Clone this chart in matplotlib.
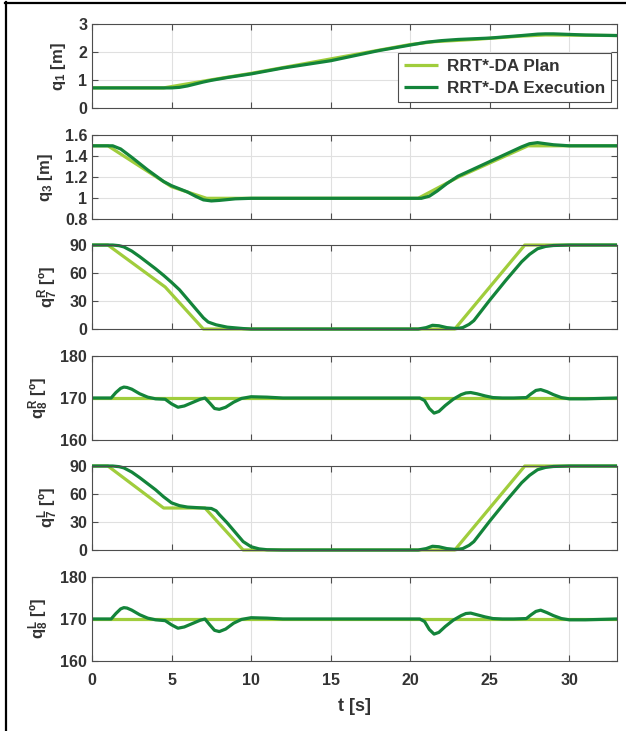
import matplotlib
matplotlib.use('Agg')
import matplotlib.pyplot as plt
from matplotlib.lines import Line2D
from matplotlib import font_manager

plt.rcParams['font.family'] = ['Liberation Sans', 'DejaVu Sans']
plt.rcParams['font.weight'] = 'bold'
plt.rcParams['mathtext.fontset'] = 'custom'
plt.rcParams['mathtext.rm'] = 'Liberation Sans:bold'
plt.rcParams['mathtext.it'] = 'Liberation Sans:bold'
plt.rcParams['mathtext.bf'] = 'Liberation Sans:bold'

names = {f.name for f in font_manager.fontManager.ttflist}
TICK_FONT = 'Liberation Sans Narrow' if 'Liberation Sans Narrow' in names else 'Liberation Sans'

PLAN_C = '#a0cd3c'
EXEC_C = '#13843a'
AX_C = '#4d4d4d'
TXT_C = '#333333'

# ---- data ----
# q1 [m]
q1_plan_t = [0, 4.5, 7.5, 10, 20, 21.5, 24, 27, 28.5, 33]
q1_plan = [0.73, 0.73, 1.02, 1.25, 2.28, 2.38, 2.46, 2.58, 2.62, 2.60]
q1_exec_t = [0, 5.0, 5.5, 6.0, 6.5, 7.0, 7.5, 8.5, 10, 12, 15, 18, 20, 21, 22, 23, 25,
             27, 28, 28.5, 29, 30, 31, 33]
q1_exec = [0.73, 0.73, 0.75, 0.80, 0.87, 0.94, 1.0, 1.1, 1.23, 1.44, 1.70, 2.06, 2.26,
           2.36, 2.42, 2.46, 2.51, 2.60, 2.65, 2.66, 2.66, 2.64, 2.62, 2.60]

# q3 [m]
q3_plan_t = [0, 1.0, 5.0, 7.2, 20.5, 23.0, 27.4, 33]
q3_plan = [1.5, 1.5, 1.11, 1.0, 1.0, 1.2, 1.5, 1.5]
q3_exec_t = [0, 1.3, 1.8, 2.5, 3.5, 4.5, 5.0, 5.5, 6.0, 6.5, 7.0, 7.5, 8.0, 9.0, 10,
             20.7, 21.2, 21.7, 22.3, 23, 24, 25, 26, 27, 27.5, 28, 28.5, 29, 30, 33]
q3_exec = [1.5, 1.5, 1.47, 1.39, 1.27, 1.16, 1.12, 1.09, 1.06, 1.02, 0.985, 0.975, 0.98,
           0.995, 1.0, 1.0, 1.02, 1.07, 1.14, 1.21, 1.28, 1.35, 1.42, 1.49, 1.52, 1.53,
           1.52, 1.51, 1.5, 1.5]

# q7 right [deg]
q7r_plan_t = [0, 1.0, 4.6, 7.0, 22.8, 27.2, 33]
q7r_plan = [90, 90, 45, 0, 0, 90, 90]
q7r_exec_t = [0, 1.3, 1.7, 2.0, 2.5, 3.0, 3.5, 4.0, 4.5, 5.0, 5.5, 6.0, 6.5, 7.0, 7.3,
              7.8, 8.5, 9.5, 10, 20.5, 21.0, 21.4, 21.8, 22.3, 22.9, 23.3, 23.7, 24, 25,
              26, 27, 27.5, 28, 28.5, 29, 30, 33]
q7r_exec = [90, 90, 89.3, 88, 83.5, 77.5, 71, 64.5, 57.5, 50, 42, 32, 22, 12, 7.5, 4.5,
            2, 0.5, 0, 0, 1.5, 4, 3.5, 1.5, 0.5, 1.5, 5, 9, 31, 52, 72, 80, 86, 88.5,
            89.5, 90, 90]

# q8 right [deg]
q8r_plan_t = [0, 33]
q8r_plan = [170, 170]
q8r_exec_t = [0, 1.2, 1.5, 1.8, 2.0, 2.2, 2.5, 3.0, 3.5, 4.0, 4.6, 5.0, 5.4, 5.8, 6.3,
              6.8, 7.1, 7.4, 7.7, 8.0, 8.4, 8.9, 9.4, 10, 11, 12, 20.6, 20.9, 21.2,
              21.5, 21.8, 22.2, 22.7, 23.2, 23.5, 23.8, 24.2, 24.7, 25.2, 25.8, 26.5,
              27.3, 27.6, 27.9, 28.2, 28.6, 29.0, 29.5, 30, 31, 33]
q8r_exec = [170, 170, 171.3, 172.3, 172.6, 172.5, 172.1, 171.0, 170.2, 169.8, 169.7,
            168.6, 167.8, 168.1, 168.9, 169.7, 170.0, 168.8, 167.5, 167.3, 167.8, 169.0,
            169.9, 170.3, 170.2, 170.0, 170.0, 169.4, 167.5, 166.4, 166.8, 168.2, 169.7,
            170.8, 171.2, 171.3, 171.0, 170.5, 170.1, 170.0, 170.0, 170.1, 171.0, 171.8,
            172.0, 171.5, 170.8, 170.1, 169.8, 169.8, 170.0]

# q7 left [deg]
q7l_plan_t = [0, 1.0, 4.5, 7.1, 9.5, 22.8, 27.2, 33]
q7l_plan = [90, 90, 45, 45, 0, 0, 90, 90]
q7l_exec_t = [0, 1.3, 1.7, 2.0, 2.5, 3.0, 3.5, 4.0, 4.5, 5.0, 5.5, 6.0, 6.5, 7.0, 7.5,
              7.8, 8.0, 8.5, 9.0, 9.5, 10, 10.5, 11, 12, 20.5, 21.0, 21.4, 21.8, 22.3,
              22.9, 23.3, 23.7, 24, 25, 26, 27, 27.5, 28, 28.5, 29, 30, 33]
q7l_exec = [90, 90, 89.3, 88, 83.5, 77.5, 71, 64.5, 57, 50.5, 47.5, 46, 45.5, 45, 44.5,
            42, 38, 29, 19, 9, 3.5, 1.2, 0.3, 0, 0, 1.5, 4, 3.5, 1.5, 0.5, 1.5, 5, 9,
            31, 52, 72, 80, 86, 88.5, 89.5, 90, 90]

# q8 left [deg]
q8l_plan_t = [0, 33]
q8l_plan = [170, 170]
q8l_exec_t = q8r_exec_t
q8l_exec = [170, 170, 171.3, 172.4, 172.7, 172.6, 172.1, 171.0, 170.2, 169.8, 169.6,
            168.6, 167.8, 168.1, 168.9, 169.7, 170.0, 168.6, 167.3, 167.0, 167.6, 169.0,
            169.9, 170.3, 170.2, 170.0, 170.0, 169.4, 167.5, 166.4, 166.8, 168.2, 169.7,
            170.8, 171.3, 171.4, 171.0, 170.5, 170.1, 170.0, 170.0, 170.1, 171.0, 171.8,
            172.1, 171.5, 170.8, 170.1, 169.8, 169.8, 170.0]

panels = [
    (q1_plan_t, q1_plan, q1_exec_t, q1_exec, 'q$_1$ [m]', (0, 3), [0, 1, 2, 3], None),
    (q3_plan_t, q3_plan, q3_exec_t, q3_exec, 'q$_3$ [m]', (0.8, 1.6),
     [0.8, 1.0, 1.2, 1.4, 1.6], ['0.8', '1', '1.2', '1.4', '1.6']),
    (q7r_plan_t, q7r_plan, q7r_exec_t, q7r_exec, 'q$^\\mathrm{R}_7$ [º]', (0, 90),
     [0, 30, 60, 90], None),
    (q8r_plan_t, q8r_plan, q8r_exec_t, q8r_exec, 'q$^\\mathrm{R}_8$ [º]', (160, 180),
     [160, 170, 180], None),
    (q7l_plan_t, q7l_plan, q7l_exec_t, q7l_exec, 'q$^\\mathrm{L}_7$ [º]', (0, 90),
     [0, 30, 60, 90], None),
    (q8l_plan_t, q8l_plan, q8l_exec_t, q8l_exec, 'q$^\\mathrm{L}_8$ [º]', (160, 180),
     [160, 170, 180], None),
]

fig = plt.figure(figsize=(6.26, 7.31), dpi=100)

left, width, height = 0.147, 0.8387, 0.1149
bottoms = [0.8518, 0.7000, 0.5499, 0.3981, 0.2476, 0.0958]

axes = []
for i, (pt, pv, et, ev, lab, ylim, yt, ytl) in enumerate(panels):
    ax = fig.add_axes([left, bottoms[i], width, height])
    ax.plot(pt, pv, color=PLAN_C, lw=2.3, label='RRT*-DA Plan', clip_on=False,
            solid_capstyle='butt')
    ax.plot(et, ev, color=EXEC_C, lw=2.3, label='RRT*-DA Execution', clip_on=False,
            solid_capstyle='butt', solid_joinstyle='round')
    ax.set_xlim(0, 33)
    ax.set_ylim(*ylim)
    ax.set_yticks(yt)
    if ytl is not None:
        ax.set_yticklabels(ytl)
    ax.set_xticks([0, 5, 10, 15, 20, 25, 30])
    ax.grid(True, color='#e0e0e0', lw=0.8)
    ax.set_axisbelow(True)
    for s in ax.spines.values():
        s.set_color(AX_C)
        s.set_linewidth(0.8)
    ax.tick_params(direction='in', top=True, right=True, length=4, width=0.8,
                   color=AX_C, labelcolor=TXT_C, labelsize=11.5)
    ax.tick_params(axis='x', pad=9)
    for lbl in ax.get_xticklabels() + ax.get_yticklabels():
        lbl.set_fontfamily([TICK_FONT, 'DejaVu Sans'])
        lbl.set_fontweight('bold')
    ax.set_ylabel(lab, fontsize=12, color=TXT_C, fontweight='bold', labelpad=7)
    if i < 5:
        ax.tick_params(labelbottom=False)
    axes.append(ax)

axes[-1].set_xlabel('t [s]', fontsize=13, color=TXT_C, fontweight='bold', labelpad=7)

leg = axes[0].legend(loc='lower right', fontsize=12.3, frameon=True, fancybox=False,
                     framealpha=1, edgecolor=AX_C, borderaxespad=0.35,
                     handlelength=2.0, borderpad=0.35, labelspacing=0.45,
                     handletextpad=0.5)
for t in leg.get_texts():
    t.set_color(TXT_C)
    t.set_fontweight('bold')
leg.get_frame().set_linewidth(0.8)

# outer frame lines (left and top)
fig.add_artist(Line2D([5.5 / 626, 5.5 / 626], [0, 1 - 2 / 731], transform=fig.transFigure,
                      color='black', lw=1.6))
fig.add_artist(Line2D([5 / 626, 1], [1 - 2.5 / 731, 1 - 2.5 / 731], transform=fig.transFigure,
                      color='black', lw=1.6))

fig.savefig('out.png', dpi=100)
